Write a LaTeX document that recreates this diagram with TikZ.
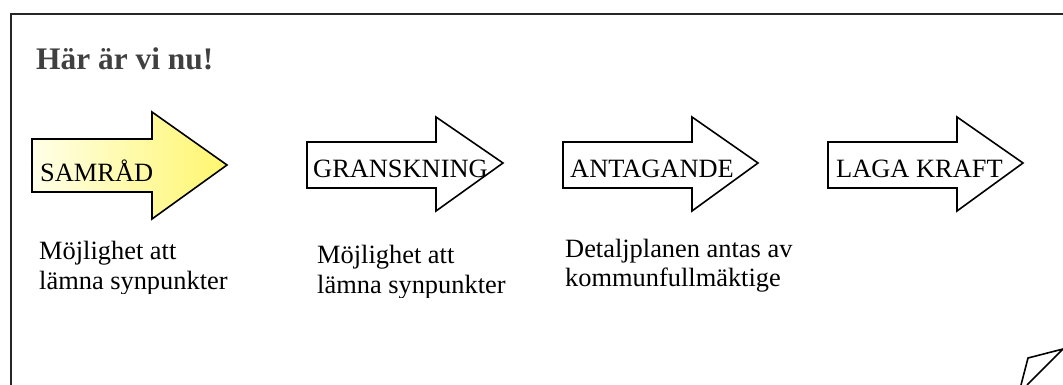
\documentclass[tikz,border=0pt]{standalone}
\usepackage{fontspec}
\setmainfont{Liberation Serif}
\begin{document}
\begin{tikzpicture}[x=1pt,y=-1pt,
  blockarrow/.style={draw=black, line width=1.6pt, line join=miter},
  steplabel/.style={anchor=base west, inner sep=0pt, font=\fontsize{26.4}{30}\selectfont},
  caption/.style={anchor=base west, inner sep=0pt, font=\fontsize{26.4}{30}\selectfont},
  frameline/.style={draw=black!85, line width=2pt}]
\useasboundingbox (0,0) rectangle (1063,385);
% frame
\draw[frameline] (1063,14) -- (11,14) -- (11,385);
% title
\node[anchor=base west, inner sep=0pt, text=black!75,
      font=\fontsize{31.4}{37}\selectfont\bfseries] (title) at (36,70) {Här är vi nu!};
% arrows
\shade[blockarrow, left color={rgb,255:red,255;green,255;blue,232}, right color={rgb,255:red,255;green,246;blue,110}]
  (32,139) -- (152,139) -- (152,112) -- (227,165) -- (152,219) -- (152,192) -- (32,192) -- cycle;
\draw[blockarrow, fill=white]
  (307,142) -- (436,142) -- (436,117) -- (503,163) -- (436,211) -- (436,188) -- (307,188) -- cycle;
\draw[blockarrow, fill=white]
  (563,142) -- (692,142) -- (692,117) -- (758,163) -- (692,211) -- (692,188) -- (563,188) -- cycle;
\draw[blockarrow, fill=white]
  (828,142) -- (957,142) -- (957,117) -- (1023,163) -- (957,211) -- (957,188) -- (828,188) -- cycle;
% labels
\node[steplabel] (samrad) at (40,182) {SAMRÅD};
\node[steplabel] (granskning) at (313,177) {GRANSKNING};
\node[steplabel] (antagande) at (570,177) {ANTAGANDE};
\node[steplabel] (lagakraft) at (836,177) {LAGA KRAFT};
% captions
\begin{scope}
  \clip (30,230) rectangle (280,293.5);
  \node[caption] (c1a) at (39,259) {Möjlighet att};
  \node[caption] (c1b) at (39,289) {lämna synpunkter};
\end{scope}
\begin{scope}
  \clip (300,230) rectangle (550,297);
  \node[caption] (c2a) at (317,263) {Möjlighet att};
  \node[caption] (c2b) at (317,293) {lämna synpunkter};
\end{scope}
\node[caption] (c3a) at (565,257) {Detaljplanen antas av};
\node[caption] (c3b) at (565,286) {kommunfullmäktige};
% corner shape
\draw[line width=1.6pt, line join=miter] (1021,385) -- (1028,358) -- (1063,349) -- (1027,385);
\end{tikzpicture}
\end{document}
